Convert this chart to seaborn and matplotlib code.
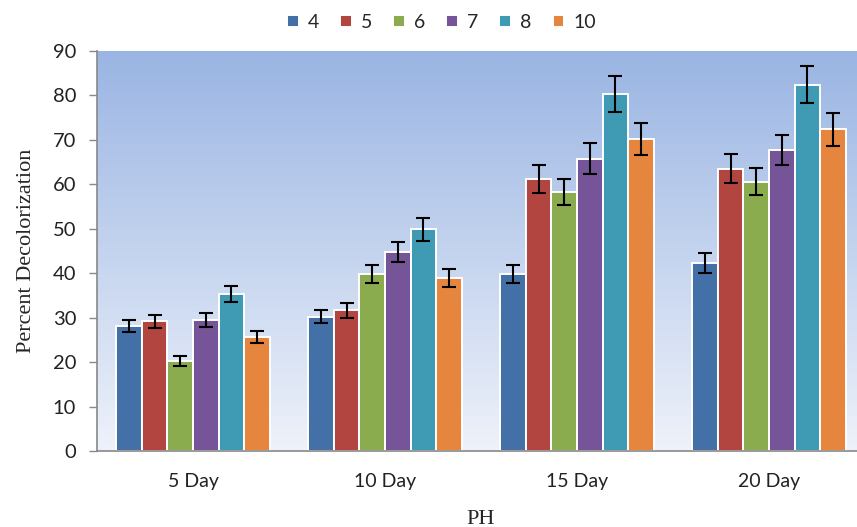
import numpy as np
import pandas as pd
import matplotlib.pyplot as plt
import seaborn as sns
from matplotlib.colors import LinearSegmentedColormap

# Data
days = ['5 Day', '10 Day', '15 Day', '20 Day']
ph_levels = ['4', '5', '6', '7', '8', '10']

ph4 = [28.1, 30.2, 39.8, 42.3]
ph5 = [29.2, 31.7, 61.2, 63.5]
ph6 = [20.2, 39.8, 58.3, 60.6]
ph7 = [29.5, 44.8, 65.8, 67.7]
ph8 = [35.3, 49.9, 80.3, 82.4]
ph10 = [25.7, 38.9, 70.2, 72.4]

err4 = [1.4, 1.5, 2.1, 2.2]
err5 = [1.5, 1.7, 3.1, 3.3]
err6 = [1.1, 2.1, 2.9, 3.1]
err7 = [1.5, 2.3, 3.4, 3.4]
err8 = [1.8, 2.6, 4.1, 4.2]
err10 = [1.4, 2.0, 3.6, 3.7]

values = [ph4, ph5, ph6, ph7, ph8, ph10]
errors = [err4, err5, err6, err7, err8, err10]

colors = ['#4470a8', '#b24540', '#8aab4e', '#755597', '#3f9bb3', '#e5853e']

rows = []
for ph, vals in zip(ph_levels, values):
    for d, v in zip(days, vals):
        rows.append({'day': d, 'ph': ph, 'value': v})
df = pd.DataFrame(rows)

sns.set_theme(style="white")
plt.rcParams['font.family'] = ['Lato', 'DejaVu Sans']

fig = plt.figure(figsize=(8.57, 5.27), dpi=100)
ax = fig.add_axes([97 / 857, 1 - 451 / 527, 768 / 857, 400 / 527])

sns.barplot(data=df, x='day', y='value', hue='ph', order=days, hue_order=ph_levels,
            palette=colors, width=0.8, gap=0, errorbar=None, saturation=1,
            edgecolor='white', linewidth=1.4, ax=ax, zorder=2)

# error bars at the bar centres
for container, errs in zip(ax.containers, errors):
    xs = [p.get_x() + p.get_width() / 2 for p in container]
    ys = [p.get_height() for p in container]
    ax.errorbar(xs, ys, yerr=errs, fmt='none', ecolor='black', elinewidth=1.5,
                capsize=5, capthick=1.5, zorder=3)

# gradient background of the plot area
cmap = LinearSegmentedColormap.from_list('bg', ['#eef2fa', '#9ab5e3'])
grad = np.linspace(0, 1, 256).reshape(-1, 1)
ax.imshow(grad, cmap=cmap, origin='lower', aspect='auto',
          extent=[0, 1, 0, 1], transform=ax.transAxes, zorder=0)

ax.set_xlim(-0.5, 3.5)
ax.set_ylim(0, 90)
ax.set_yticks(range(0, 91, 10))

ax.set_xticks([-0.5, 0.5, 1.5, 2.5, 3.5], minor=True)
ax.tick_params(axis='x', which='major', length=0, pad=16, labelsize=14, colors='#222222')
ax.tick_params(axis='x', which='minor', length=6, direction='out', color='#888888', width=1)
ax.tick_params(axis='y', length=6, direction='out', color='#888888', width=1, pad=9,
               labelsize=14.5, colors='#222222', left=True)

for side in ['top', 'right']:
    ax.spines[side].set_visible(False)
for side in ['left', 'bottom']:
    ax.spines[side].set_color('#888888')
    ax.spines[side].set_linewidth(1.2)

ax.set_ylabel('Percent Decolorization', family='Liberation Serif', fontsize=16, labelpad=12)
ax.set_xlabel('PH', family='Liberation Serif', fontsize=16, labelpad=14)

handles, labels = ax.get_legend_handles_labels()
ax.get_legend().remove()
fig.legend(handles, labels, loc='center', bbox_to_anchor=(0.515, 0.957), ncol=6,
           frameon=False, fontsize=14, handlelength=0.6, handleheight=0.6,
           handletextpad=0.45, columnspacing=1.1)

fig.savefig('out.png', dpi=100)
